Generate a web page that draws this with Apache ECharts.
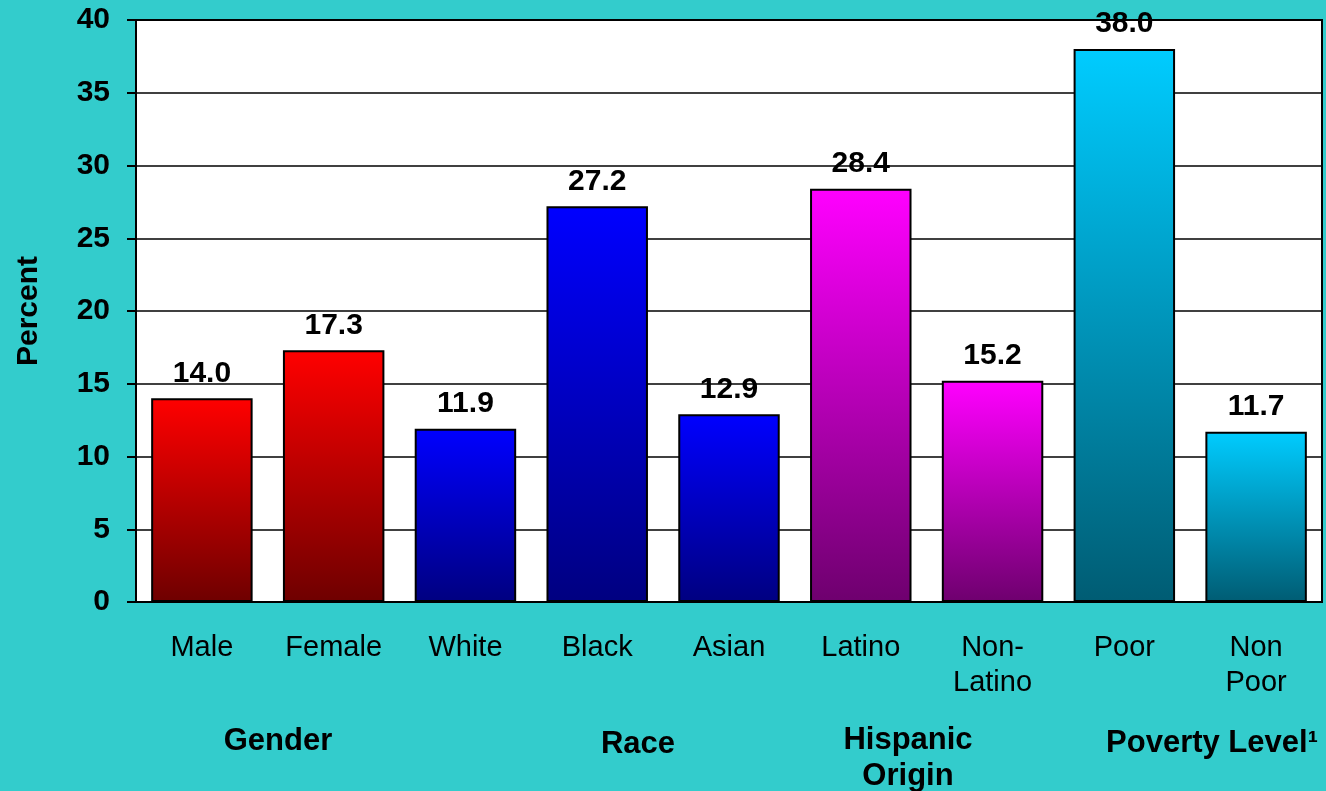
<!DOCTYPE html>
<html>
<head>
<meta charset="utf-8">
<script src="https://cdn.jsdelivr.net/npm/echarts@6/dist/echarts.min.js"></script>
<style>
html,body{margin:0;padding:0;background:#33CCCC;}
#chart{width:1326px;height:791px;}
</style>
</head>
<body>
<div id="chart"></div>
<script>
const categories = ['Male', 'Female', 'White', 'Black', 'Asian', 'Latino', 'Non-\nLatino', 'Poor', 'Non\nPoor'];
const values = [14.0, 17.3, 11.9, 27.2, 12.9, 28.4, 15.2, 38.0, 11.7];
const barGroup = [0, 0, 1, 1, 1, 2, 2, 3, 3];
const groupLabels = ['Gender', 'Race', 'Hispanic\nOrigin', 'Poverty Level¹'];
const groupTopColors = ['#FF0000', '#0000FF', '#FF00FF', '#00CCFF'];
const groupBottomColors = ['#6E0000', '#000080', '#6E006E', '#005C73'];
const yMin = 0, yMax = 40, yInterval = 5;

const FONT = "'Liberation Sans', Arial, sans-serif";

const chart = echarts.init(document.getElementById('chart'), null, {renderer: 'canvas'});

const data = values.map((v, i) => ({
  value: v,
  itemStyle: {
    color: new echarts.graphic.LinearGradient(0, 0, 0, 1, [
      {offset: 0, color: groupTopColors[barGroup[i]]},
      {offset: 1, color: groupBottomColors[barGroup[i]]}
    ])
  }
}));

// group label pixel positions of the annotation text
const groupPos = [[278, 741], [638, 744], [908, 722], [1212, 743]];

const option = {
  backgroundColor: '#33CCCC',
  animation: false,
  grid: {
    left: 136, right: 4, top: 20, bottom: 189,
    show: true, backgroundColor: '#FFFFFF', borderColor: '#000000', borderWidth: 2,
    containLabel: false
  },
  xAxis: {
    type: 'category',
    data: categories,
    axisLine: {show: true, lineStyle: {color: '#000', width: 2}},
    axisTick: {show: false},
    axisLabel: {
      color: '#000', fontFamily: FONT, fontSize: 29, lineHeight: 35,
      margin: 28, interval: 0
    },
    splitLine: {show: false}
  },
  yAxis: {
    type: 'value',
    min: yMin, max: yMax, interval: yInterval,
    name: 'Percent',
    nameLocation: 'middle',
    nameGap: 92,
    nameRotate: 90,
    nameTextStyle: {color: '#000', fontFamily: FONT, fontSize: 30, fontWeight: 'bold'},
    axisLine: {show: true, lineStyle: {color: '#000', width: 2}},
    axisTick: {show: true, inside: false, length: 9, lineStyle: {color: '#000', width: 2}},
    axisLabel: {color: '#000', fontFamily: FONT, fontSize: 30, fontWeight: 'bold', margin: 26},
    splitLine: {show: true, lineStyle: {color: '#000', width: 1.5}}
  },
  series: [{
    type: 'bar',
    data: data,
    barWidth: '77%',
    itemStyle: {borderColor: '#000', borderWidth: 2},
    label: {
      show: true, position: 'top', distance: 10,
      color: '#000', fontFamily: FONT, fontSize: 30, fontWeight: 'bold',
      formatter: p => p.value.toFixed(1)
    }
  }],
  graphic: groupLabels.map((t, i) => ({
    type: 'text',
    x: groupPos[i][0],
    y: groupPos[i][1],
    style: {
      text: t,
      fill: '#000',
      font: "bold 31px " + FONT,
      align: 'center',
      verticalAlign: i === 2 ? 'top' : 'middle',
      lineHeight: 36
    }
  }))
};

chart.setOption(option);
</script>
</body>
</html>
